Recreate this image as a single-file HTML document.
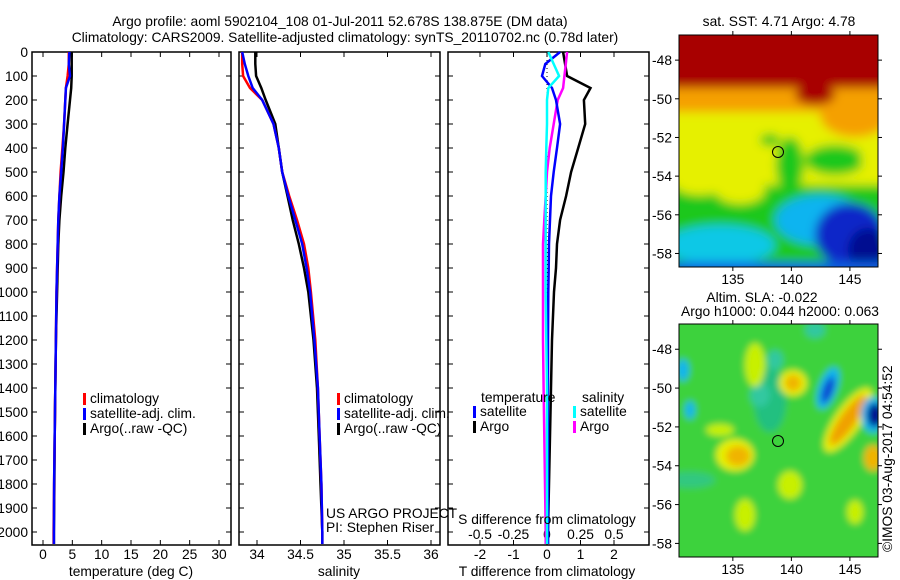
<!DOCTYPE html>
<html><head><meta charset="utf-8"><style>
body{margin:0;background:#fff;}
svg{display:block;font-family:"Liberation Sans",sans-serif;}
text{font-size:13.8px;fill:#000;}
</style></head><body>
<svg id="fig" width="900" height="580" viewBox="0 0 900 580" xmlns="http://www.w3.org/2000/svg">
<defs>
<filter id="blur1" filterUnits="userSpaceOnUse" x="600" y="-100" width="400" height="800"><feGaussianBlur stdDeviation="5"/></filter>
<filter id="blur2" filterUnits="userSpaceOnUse" x="600" y="200" width="400" height="500"><feGaussianBlur stdDeviation="3.5"/></filter>
<clipPath id="clipTop"><rect x="679" y="35" width="199" height="232"/></clipPath>
<clipPath id="clipBot"><rect x="679" y="324" width="199" height="233"/></clipPath>
</defs>
<text x="340" y="26" text-anchor="middle">Argo profile: aoml 5902104_108 01-Jul-2011 52.678S 138.875E (DM data)</text>
<text x="345" y="42" text-anchor="middle">Climatology: CARS2009. Satellite-adjusted climatology: synTS_20110702.nc (0.78d later)</text>
<g id="g1"></g>
<g id="g2"></g>
<g id="g3"></g>

<g>
<text x="779" y="26" text-anchor="middle">sat. SST: 4.71  Argo: 4.78</text>
<g clip-path="url(#clipTop)">
<g filter="url(#blur1)">
<rect x="640" y="0" width="280" height="300" fill="#1ec81e"/>
<rect x="640" y="0" width="280" height="185" fill="#e6f000"/>
<rect x="640" y="0" width="280" height="112" fill="#f5a000"/>
<rect x="640" y="0" width="280" height="88" fill="#a80000"/>
<ellipse cx="700" cy="100" rx="25" ry="12" fill="#f5a000"/>
<ellipse cx="855" cy="115" rx="35" ry="22" fill="#f5a000"/>
<ellipse cx="815" cy="95" rx="20" ry="10" fill="#a80000"/>
<ellipse cx="700" cy="185" rx="25" ry="10" fill="#e6f000"/>
<ellipse cx="740" cy="190" rx="25" ry="14" fill="#e6f000"/>
<ellipse cx="790" cy="165" rx="14" ry="28" fill="#1ec81e"/>
<ellipse cx="770" cy="140" rx="10" ry="6" fill="#1ec81e"/>
<ellipse cx="835" cy="160" rx="30" ry="15" fill="#1ec81e"/>
<ellipse cx="870" cy="158" rx="9" ry="14" fill="#e6f000"/>
<ellipse cx="720" cy="245" rx="55" ry="20" fill="#10c8e6"/>
<ellipse cx="820" cy="220" rx="45" ry="25" fill="#10b4f0"/>
<ellipse cx="850" cy="235" rx="35" ry="32" fill="#0a28c8"/>
<ellipse cx="868" cy="250" rx="20" ry="22" fill="#000a90"/>
<rect x="640" y="262" width="280" height="20" fill="#0a60e0"/>
</g>
</g>
<rect x="679" y="35" width="199" height="232" fill="none" stroke="#000"/>
<circle cx="778" cy="152" r="5.5" fill="none" stroke="#000"/>
</g>

<g>
<text x="762" y="302" text-anchor="middle">Altim. SLA: -0.022</text>
<text x="780" y="316" text-anchor="middle">Argo h1000: 0.044 h2000: 0.063</text>
<g clip-path="url(#clipBot)">
<g filter="url(#blur2)">
<rect x="660" y="310" width="240" height="260" fill="#3cd23c"/>
<ellipse cx="770" cy="400" rx="16" ry="32" fill="#20c080"/>
<ellipse cx="760" cy="395" rx="10" ry="12" fill="#30c8a0"/>
<ellipse cx="775" cy="360" rx="8" ry="10" fill="#30c8a0"/>
<ellipse cx="690" cy="480" rx="25" ry="8" fill="#30c880"/>
<ellipse cx="735" cy="455" rx="19" ry="16" fill="#e6f000"/>
<ellipse cx="738" cy="456" rx="12" ry="10" fill="#f0b400"/>
<ellipse cx="793" cy="383" rx="14" ry="13" fill="#e6f000"/>
<ellipse cx="793" cy="383" rx="8" ry="8" fill="#f0b400"/>
<ellipse cx="848" cy="420" rx="13" ry="38" transform="rotate(35 848 420)" fill="#e6f000"/>
<ellipse cx="848" cy="420" rx="8" ry="30" transform="rotate(35 848 420)" fill="#f0a000"/>
<ellipse cx="873" cy="458" rx="9" ry="13" fill="#f0b400"/>
<ellipse cx="828" cy="388" rx="9" ry="22" transform="rotate(20 828 388)" fill="#10b4f0"/>
<ellipse cx="828" cy="390" rx="5" ry="14" transform="rotate(20 828 390)" fill="#0a40d0"/>
<ellipse cx="873" cy="415" rx="12" ry="18" fill="#10b4f0"/>
<ellipse cx="875" cy="415" rx="8" ry="12" fill="#000a90"/>
<ellipse cx="683" cy="370" rx="6" ry="11" fill="#10b4f0"/>
<ellipse cx="690" cy="410" rx="5" ry="9" fill="#10b4f0"/>
<ellipse cx="755" cy="365" rx="10" ry="22" fill="#c8f000"/>
<ellipse cx="720" cy="430" rx="14" ry="6" fill="#c8f000"/>
<ellipse cx="790" cy="485" rx="12" ry="14" fill="#c8f000"/>
<ellipse cx="745" cy="515" rx="10" ry="16" fill="#c8f000"/>
<ellipse cx="815" cy="330" rx="10" ry="8" fill="#30c8a0"/>
<ellipse cx="855" cy="512" rx="8" ry="12" fill="#c8f000"/>
</g>
</g>
<rect x="679" y="324" width="199" height="233" fill="none" stroke="#000"/>
<circle cx="778" cy="441" r="5.5" fill="none" stroke="#000"/>
<text x="892" y="552" transform="rotate(-90 892 552)">©IMOS 03-Aug-2017 04:54:52</text>
</g>
<g id="gm"></g>
</svg>
<script>
// ---- data ----
const depths = [0,50,100,150,200,300,400,500,600,700,800,900,1000,1200,1400,1600,1800,2000,2050];
const tempClim = [4.4,4.4,4.2,3.9,3.8,3.6,3.3,3.0,2.8,2.6,2.5,2.4,2.3,2.2,2.1,2.0,1.9,1.8,1.8];
const tempSat  = [4.5,4.4,4.6,3.9,3.8,3.6,3.4,3.1,2.8,2.6,2.5,2.4,2.3,2.2,2.1,2.0,1.9,1.85,1.85];
const tempArgo = [4.9,4.9,4.9,4.8,4.6,4.2,3.8,3.5,3.1,2.8,2.6,2.5,2.4,2.2,2.1,2.0,1.95,1.85,1.85];
const salClim = [33.83,33.83,33.84,33.92,34.06,34.19,34.25,34.29,34.37,34.46,34.54,34.59,34.62,34.67,34.70,34.72,34.74,34.75,34.75];
const salSat  = [33.83,33.86,33.90,33.95,34.06,34.19,34.25,34.29,34.36,34.44,34.52,34.57,34.61,34.66,34.70,34.72,34.74,34.75,34.75];
const salArgo = [33.98,33.98,33.99,34.05,34.10,34.21,34.25,34.29,34.35,34.41,34.48,34.54,34.59,34.65,34.69,34.71,34.73,34.75,34.75];
const tDiffArgo = [0.48,0.54,0.6,1.3,1.1,1.14,0.93,0.72,0.57,0.39,0.3,0.27,0.21,0.15,0.12,0.09,0.06,0.03,0.03];
const tDiffSat  = [0.39,-0.05,-0.15,0.15,0.27,0.39,0.3,0.2,0.12,0.09,0.06,0.05,0.04,0.03,0.03,0.03,0.03,0.03,0.03];
const sDiffSat  = [0.01,0.05,0.09,0.01,0.0,0.0,-0.005,-0.01,-0.01,-0.01,-0.01,-0.01,-0.01,-0.005,0,0,0,0,0];
const sDiffArgo = [0.15,0.14,0.13,0.12,0.08,0.05,0.02,0,-0.01,-0.02,-0.03,-0.03,-0.03,-0.03,-0.025,-0.02,-0.015,-0.01,-0.01];
const depthTicks = [0,100,200,300,400,500,600,700,800,900,1000,1100,1200,1300,1400,1500,1600,1700,1800,1900,2000];
const tempTicks = [0,5,10,15,20,25,30];
const salTicks = [34,34.5,35,35.5,36];
const salTickLabels = ["34","34.5","35","35.5","36"];
const tdTicks = [-2,-1,0,1,2];
const sdTicks = [-0.5,-0.25,0,0.25,0.5];
const sdTickLabels = ["-0.5","-0.25","0","0.25","0.5"];
const lonTicks = [135,140,145];
const latTicks = [-48,-50,-52,-54,-56,-58];

const NS='http://www.w3.org/2000/svg';
function mk(parent, tag, attrs, txt){const e=document.createElementNS(NS,tag);for(const k in attrs)e.setAttribute(k,attrs[k]);if(txt!==undefined)e.textContent=txt;parent.appendChild(e);return e;}
const top0=52, bot0=545;
const yD = d => top0 + d*0.24;
function linScale(d0,d1,r0,r1){return v=>r0+(v-d0)*(r1-r0)/(d1-d0);}

function panel(g,x0,x1,name){
  const r=mk(g,'rect',{x:x0,y:top0,width:x1-x0,height:bot0-top0,fill:'none',stroke:'#000','stroke-width':1.5});
  
  
  depthTicks.forEach(d=>{
    mk(g,'line',{x1:x0,x2:x0+5,y1:yD(d),y2:yD(d),stroke:'#000'});
    mk(g,'line',{x1:x1,x2:x1-5,y1:yD(d),y2:yD(d),stroke:'#000'});
  });
}
function line(g,xs,ys,color,name,w){
  const pts=xs.map((x,i)=>x.toFixed(1)+','+ys[i].toFixed(1)).join(' ');
  const p=mk(g,'polyline',{points:pts,fill:'none',stroke:color,'stroke-width':w||2.5});
  
  
}
function xTicks(g,x0,x1,vals,labels,sx,ylab){
  vals.forEach((v,i)=>{
    const x=sx(v);
    mk(g,'line',{x1:x,x2:x,y1:bot0,y2:bot0-5,stroke:'#000'});
    mk(g,'line',{x1:x,x2:x,y1:top0,y2:top0+5,stroke:'#000'});
    const t=mk(g,'text',{x:x,y:ylab,'text-anchor':'middle'},labels[i]);
    
    
  });
}
function legend(g,x,y,items){
  items.forEach((it,i)=>{
    mk(g,'rect',{x:x,y:y+i*15-10,width:3,height:12,fill:it[1]});
    const t=mk(g,'text',{x:x+7,y:y+i*15},it[0]);
    
    
  });
}

// Panel 1 temperature
const g1=document.getElementById('g1');
const sT=linScale(0,30,43,219);
panel(g1,32,231,'temperature-panel');
depthTicks.forEach(d=>{const t=mk(g1,'text',{x:28,y:yD(d)+5,'text-anchor':'end'},String(d));});
xTicks(g1,32,231,tempTicks,tempTicks.map(String),sT,559);
line(g1,tempArgo.map(sT),depths.map(yD),'#000','temp-argo-line');
line(g1,tempClim.map(sT),depths.map(yD),'#f00','temp-climatology-line');
line(g1,tempSat.map(sT),depths.map(yD),'#00f','temp-satellite-line');
legend(g1,83,403,[['climatology','#f00'],['satellite-adj. clim.','#00f'],['Argo(..raw -QC)','#000']]);
let t=mk(g1,'text',{x:131,y:576,'text-anchor':'middle'},'temperature (deg C)');

// Panel 2 salinity
const g2=document.getElementById('g2');
const sS=linScale(34,36,257,431);
panel(g2,239,440,'salinity-panel');
xTicks(g2,239,440,salTicks,salTickLabels,sS,559);
line(g2,salArgo.map(sS),depths.map(yD),'#000','sal-argo-line');
line(g2,salClim.map(sS),depths.map(yD),'#f00','sal-climatology-line');
line(g2,salSat.map(sS),depths.map(yD),'#00f','sal-satellite-line');
legend(g2,337,403,[['climatology','#f00'],['satellite-adj. clim.','#00f'],['Argo(..raw -QC)','#000']]);
t=mk(g2,'text',{x:326,y:518},'US ARGO PROJECT');
t=mk(g2,'text',{x:326,y:532},'PI: Stephen Riser');
t=mk(g2,'text',{x:339,y:576,'text-anchor':'middle'},'salinity');

// Panel 3 differences
const g3=document.getElementById('g3');
const sTD=linScale(0,1,547,580.5), sSD=linScale(0,0.25,547,580.5);
panel(g3,448,649,'difference-panel');
xTicks(g3,448,649,tdTicks,tdTicks.map(String),sTD,559);
sdTicks.forEach((v,i)=>{const tt=mk(g3,'text',{x:sSD(v),y:539,'text-anchor':'middle'},sdTickLabels[i]);});
mk(g3,'line',{x1:sTD(0),x2:sTD(0),y1:top0,y2:bot0,stroke:'#000','stroke-dasharray':'1,3'});
line(g3,tDiffArgo.map(sTD),depths.map(yD),'#000','tdiff-argo-line');
line(g3,sDiffArgo.map(sSD),depths.map(yD),'#f0f','sdiff-argo-line');
line(g3,tDiffSat.map(sTD),depths.map(yD),'#00f','tdiff-satellite-line');
line(g3,sDiffSat.map(sSD),depths.map(yD),'#0ff','sdiff-satellite-line');
t=mk(g3,'text',{x:481,y:402},'temperature');
t=mk(g3,'text',{x:582,y:402},'salinity');
legend(g3,473,416,[['satellite','#00f'],['Argo','#000']]);
legend(g3,573,416,[['satellite','#0ff'],['Argo','#f0f']]);
t=mk(g3,'text',{x:547,y:524,'text-anchor':'middle'},'S difference from climatology');
t=mk(g3,'text',{x:547,y:576,'text-anchor':'middle'},'T difference from climatology');

// map axes
const gm=document.getElementById('gm');
const sLon=linScale(130.4,147.4,679,878);
[[35,267],[324,557]].forEach(([y0,y1])=>{
  const sLat=linScale(-46.7,-58.7,y0,y1);
  lonTicks.forEach(v=>{const x=sLon(v);
    mk(gm,'line',{x1:x,x2:x,y1:y0,y2:y0-4,stroke:'#000'});
    mk(gm,'line',{x1:x,x2:x,y1:y1,y2:y1+4,stroke:'#000'});
    const tt=mk(gm,'text',{x:x,y:y1+17,'text-anchor':'middle'},String(v));});
  latTicks.forEach(v=>{const y=sLat(v);
    mk(gm,'line',{x1:679,x2:675,y1:y,y2:y,stroke:'#000'});
    mk(gm,'line',{x1:878,x2:882,y1:y,y2:y,stroke:'#000'});
    const tt=mk(gm,'text',{x:672,y:y+5,'text-anchor':'end'},String(v));});
});
</script>
</body></html>
